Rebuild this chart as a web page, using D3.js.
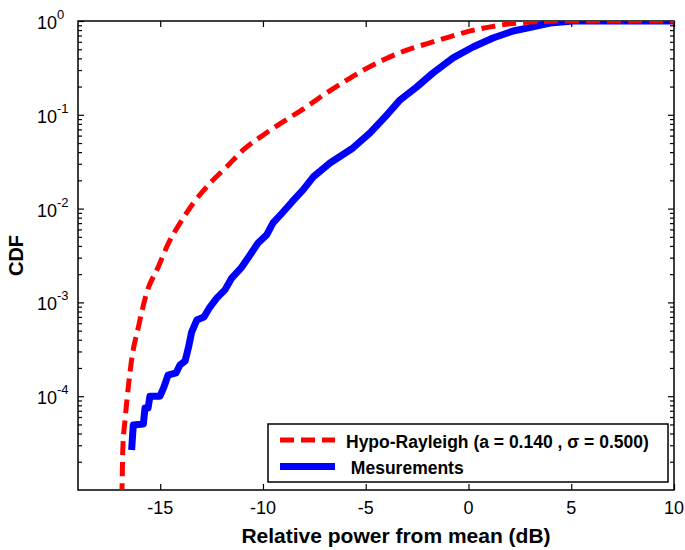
<!DOCTYPE html>
<html>
<head>
<meta charset="utf-8">
<script src="https://cdn.jsdelivr.net/npm/d3@7"></script>
<style>
  body { margin: 0; background: #fff; }
  text { font-family: "Liberation Sans", Arial, sans-serif; }
</style>
</head>
<body>
<div id="chart"></div>
<script>
// Hypo-Rayleigh model (dB, CDF)
var redX = [-16.9, -16.86, -16.82, -16.71, -16.6, -16.39, -16.05, -15.66, -15.09, -14.6, -14.04, -13.39, -12.58,
  -11.76, -10.96, -9.98, -9.01, -7.87, -7, -6, -5, -4, -3, -2, -1, 0, 1, 2, 3, 4, 5, 10];
var redY = [5e-6, 1e-5, 2.7e-5, 5.6e-5, 1e-4, 2.45e-4, 5.6e-4, 1.26e-3, 2.4e-3, 4.27e-3, 6.97e-3, 1.14e-2, 1.86e-2,
  2.8e-2, 4.22e-2, 6.1e-2, 8.45e-2, 0.122, 0.166, 0.229, 0.309, 0.398, 0.49, 0.575, 0.67, 0.776, 0.861, 0.933, 0.973, 0.993, 1, 1];
// measurements
var blueX = [-16.39, -16.31, -15.82, -15.74, -15.59, -15.5, -15.01, -14.82, -14.62, -14.23, -14.04, -13.79,
  -13.63, -13.47, -13.22, -12.87, -12.58, -12.25, -11.85, -11.52, -11.03, -10.63, -10.24, -9.82, -9.51,
  -9.02, -8.6, -8.05, -7.56, -6.74, -5.62, -4.79, -3.98, -3.33, -2.52, -1.73, -0.75, 0.22, 1.19, 2.17,
  2.85, 3.97, 5.09, 10];
var blueY = [2.67e-5, 4.93e-5, 5.06e-5, 7.48e-5, 7.48e-5, 1.0e-4, 1.0e-4, 1.25e-4, 1.68e-4, 1.77e-4, 2.15e-4, 2.37e-4,
  3.27e-4, 4.83e-4, 6.49e-4, 6.98e-4, 8.93e-4, 1.11e-3, 1.36e-3, 1.82e-3, 2.38e-3, 3.2e-3, 4.3e-3, 5.24e-3, 7.03e-3,
  9.2e-3, 1.17e-2, 1.58e-2, 2.17e-2, 3.06e-2, 4.43e-2, 6.4e-2, 9.95e-2, 0.144, 0.198, 0.279, 0.404, 0.528, 0.659, 0.782,
  0.841, 0.953, 1, 1];
var xTicks = [-15, -10, -5, 0, 5, 10];
var yExp = [0, -1, -2, -3, -4];
var legendLabels = ['Hypo-Rayleigh (a = 0.140 , \u03c3 = 0.500)', ' Mesurements'];

var width = 685, height = 550;
var margin = {left: 78, right: 11, top: 21, bottom: 60};

var svg = d3.select('#chart').append('svg')
  .attr('width', width)
  .attr('height', height);

var x = d3.scaleLinear().domain([-19, 10]).range([margin.left, width - margin.right]);
var y = d3.scaleLog().domain([1e-5, 1]).range([height - margin.bottom, margin.top]);

svg.append('defs').append('clipPath').attr('id', 'clip')
  .append('rect')
  .attr('x', margin.left).attr('y', margin.top)
  .attr('width', x(10) - x(-19)).attr('height', y(1e-5) - y(1));

// minor log ticks
var minor = [];
for (var e = -5; e < 0; e++) {
  for (var k = 2; k <= 9; k++) minor.push(k * Math.pow(10, e));
}
var majorY = yExp.map(function (p) { return Math.pow(10, p); });

var axisStyle = function (g) {
  g.select('.domain').remove();
  g.selectAll('line').attr('stroke', '#000').attr('stroke-width', 1.2);
};

// left / right axes (ticks inward)
svg.append('g').attr('transform', 'translate(' + x(-19) + ',0)')
  .call(d3.axisRight(y).tickValues(minor).tickSize(4).tickFormat('')).call(axisStyle);
svg.append('g').attr('transform', 'translate(' + x(-19) + ',0)')
  .call(d3.axisRight(y).tickValues(majorY).tickSize(6).tickFormat('')).call(axisStyle);
svg.append('g').attr('transform', 'translate(' + x(10) + ',0)')
  .call(d3.axisLeft(y).tickValues(minor).tickSize(4).tickFormat('')).call(axisStyle);
svg.append('g').attr('transform', 'translate(' + x(10) + ',0)')
  .call(d3.axisLeft(y).tickValues(majorY).tickSize(6).tickFormat('')).call(axisStyle);
// bottom / top axes
svg.append('g').attr('transform', 'translate(0,' + y(1e-5) + ')')
  .call(d3.axisTop(x).tickValues(xTicks).tickSize(6).tickFormat('')).call(axisStyle);
svg.append('g').attr('transform', 'translate(0,' + y(1) + ')')
  .call(d3.axisBottom(x).tickValues(xTicks).tickSize(6).tickFormat('')).call(axisStyle);

// x tick labels
svg.append('g').selectAll('text')
  .data(xTicks)
  .enter()
  .append('text')
  .attr('x', function (d) { return x(d); })
  .attr('y', y(1e-5) + 24)
  .attr('text-anchor', 'middle')
  .attr('font-size', 18)
  .text(function (d) { return d; });

// y tick labels 10^p
var yl = svg.append('g').selectAll('text')
  .data(yExp)
  .enter()
  .append('text')
  .attr('x', 37)
  .attr('y', function (d) { return y(Math.pow(10, d)) + 8; })
  .attr('font-size', 18);
yl.append('tspan').text('10');
yl.append('tspan').attr('dy', -10).attr('font-size', 13).text(function (d) { return d; });

// frame
svg.append('rect')
  .attr('x', x(-19)).attr('y', y(1))
  .attr('width', x(10) - x(-19)).attr('height', y(1e-5) - y(1))
  .attr('fill', 'none').attr('stroke', '#000').attr('stroke-width', 1.5);

// curves
var plot = svg.append('g').attr('clip-path', 'url(#clip)');
var redLine = d3.line()
  .x(function (d) { return x(d[0]); })
  .y(function (d) { return y(d[1]); })
  .curve(d3.curveMonotoneX);
var blueLine = d3.line()
  .x(function (d) { return x(d[0]); })
  .y(function (d) { return y(d[1]); });

plot.append('path')
  .datum(d3.zip(blueX, blueY))
  .attr('d', blueLine)
  .attr('fill', 'none')
  .attr('stroke', '#0000ff')
  .attr('stroke-width', 7)
  .attr('stroke-linejoin', 'round');
plot.append('path')
  .datum(d3.zip(redX, redY))
  .attr('d', redLine)
  .attr('fill', 'none')
  .attr('stroke', '#ff0000')
  .attr('stroke-width', 5)
  .attr('stroke-dasharray', '14,7');

// legend
var lg = svg.append('g');
lg.append('rect')
  .attr('x', 268).attr('y', 424)
  .attr('width', 400).attr('height', 58)
  .attr('fill', '#fff').attr('stroke', '#000').attr('stroke-width', 1.5);
lg.append('line')
  .attr('x1', 280).attr('x2', 335).attr('y1', 440).attr('y2', 440)
  .attr('stroke', '#ff0000').attr('stroke-width', 5).attr('stroke-dasharray', '14,7');
lg.append('line')
  .attr('x1', 280).attr('x2', 335).attr('y1', 466.5).attr('y2', 466.5)
  .attr('stroke', '#0000ff').attr('stroke-width', 7);
lg.selectAll('text.lab')
  .data(legendLabels)
  .enter()
  .append('text')
  .attr('class', 'lab')
  .attr('x', 346)
  .attr('y', function (d, i) { return 448 + i * 25.5; })
  .attr('font-size', 17.5)
  .attr('font-weight', 'bold')
  .attr('xml:space', 'preserve')
  .style('white-space', 'pre')
  .text(function (d) { return d; });

// axis titles
svg.append('text')
  .attr('x', 396)
  .attr('y', 543)
  .attr('text-anchor', 'middle')
  .attr('font-size', 21)
  .attr('font-weight', 'bold')
  .text('Relative power from mean (dB)');
svg.append('text')
  .attr('transform', 'translate(23,' + ((y(1) + y(1e-5)) / 2) + ') rotate(-90)')
  .attr('text-anchor', 'middle')
  .attr('font-size', 20)
  .attr('font-weight', 'bold')
  .text('CDF');
</script>
</body>
</html>
